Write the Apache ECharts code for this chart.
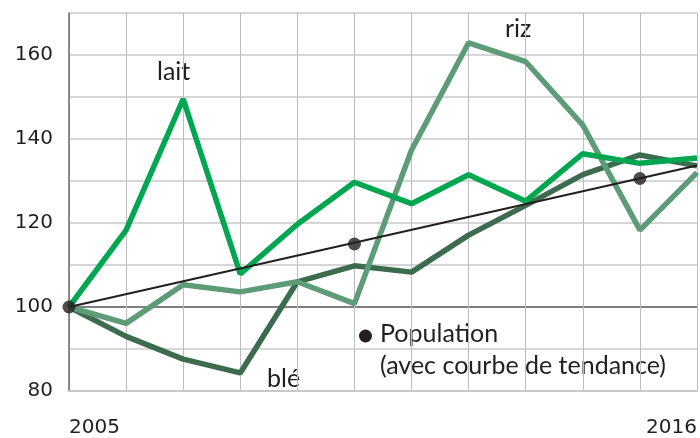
<!DOCTYPE html>
<html><head><meta charset="utf-8">
<script src="https://cdn.jsdelivr.net/npm/echarts@6/dist/echarts.min.js"></script>
<style>html,body{margin:0;padding:0;background:#fff}#c{width:700px;height:438px}</style>
</head><body><div id="c"></div>
<script>
const years = ['2005','2006','2007','2008','2009','2010','2011','2012','2013','2014','2015','2016'];
const lait = [100, 118.3, 149.5, 107.9, 119.7, 129.7, 124.6, 131.5, 125.2, 136.5, 134.2, 135.5];
const riz  = [100, 96.1, 105.3, 103.6, 106, 100.8, 137.4, 162.9, 158.4, 143.3, 118.3, 132];
const ble  = [100, 93, 87.6, 84.3, 106, 109.8, 108.3, 117.1, 124.2, 131.5, 136.2, 133.6];
const trend = [100, null, null, null, null, null, null, null, null, null, null, 133.7];
const population = [100, null, null, null, null, 115, null, null, null, null, 130.6, null];
const yTicks = [80, 100, 120, 140, 160];

const TICKFONT = '"DejaVu Sans"';
const FS = 20;
const ANN = '25px Lato';
const INK = '#231f20';
const chart = echarts.init(document.getElementById('c'), null, {renderer:'canvas'});
const grid = '#c9c9c9';
chart.setOption({
  animation:false,
  grid:{left:69, right:0, top:13, bottom:43, containLabel:false},
  xAxis:{
    type:'category', data:years, boundaryGap:false,
    axisLine:{show:true, lineStyle:{color:grid, width:2}},
    axisTick:{show:false},
    axisLabel:{
      interval:0, margin:27, fontSize:FS, fontFamily:TICKFONT, color:INK,
      formatter:(v,i)=> (i===0||i===years.length-1)? v : '',
      alignMinLabel:'left', alignMaxLabel:'right'
    },
    splitLine:{show:true, interval:0, lineStyle:{color:'#bdbdbd', width:1}}
  },
  yAxis:{
    type:'value', min:80, max:170, interval:10,
    axisLine:{show:true, lineStyle:{color:'#6d6d6d', width:1.5}},
    axisTick:{show:false},
    axisLabel:{margin:16, fontSize:FS, fontFamily:TICKFONT, color:INK,
      formatter:v=> yTicks.indexOf(v)>=0 ? String(v) : ''},
    splitLine:{show:true, lineStyle:{color:[grid, grid, '#555555', grid, grid, grid, grid, grid, grid, grid], width:1.5}}
  },
  series:[
    {name:'blé', type:'line', data:ble, symbol:'none', lineStyle:{color:'#3c6c4d', width:5.5}, z:2},
    {name:'riz', type:'line', data:riz, symbol:'none', lineStyle:{color:'#5e9b77', width:5.5}, z:3},
    {name:'lait', type:'line', data:lait, symbol:'none', lineStyle:{color:'#00a650', width:5.5}, z:4},
    {name:'tendance', type:'line', data:trend, connectNulls:true, symbol:'none', lineStyle:{color:INK, width:2}, z:5},
    {name:'Population', type:'scatter', data:population, symbol:'circle', symbolSize:13, itemStyle:{color:INK}, z:6}
  ],
  graphic:[
    {type:'text', left:157, top:59, style:{text:'lait', font:ANN, fill:INK}},
    {type:'text', left:505, top:16, style:{text:'riz', font:ANN, fill:INK}},
    {type:'text', left:267, top:366, style:{text:'blé', font:ANN, fill:INK}},
    {type:'circle', shape:{cx:365.5, cy:336, r:6.5}, style:{fill:INK}},
    {type:'text', left:380, top:321, style:{text:'Population', font:ANN, fill:INK}},
    {type:'text', left:380, top:353, style:{text:'(avec courbe de tendance)', font:ANN, fill:INK}}
  ]
});
</script></body></html>
